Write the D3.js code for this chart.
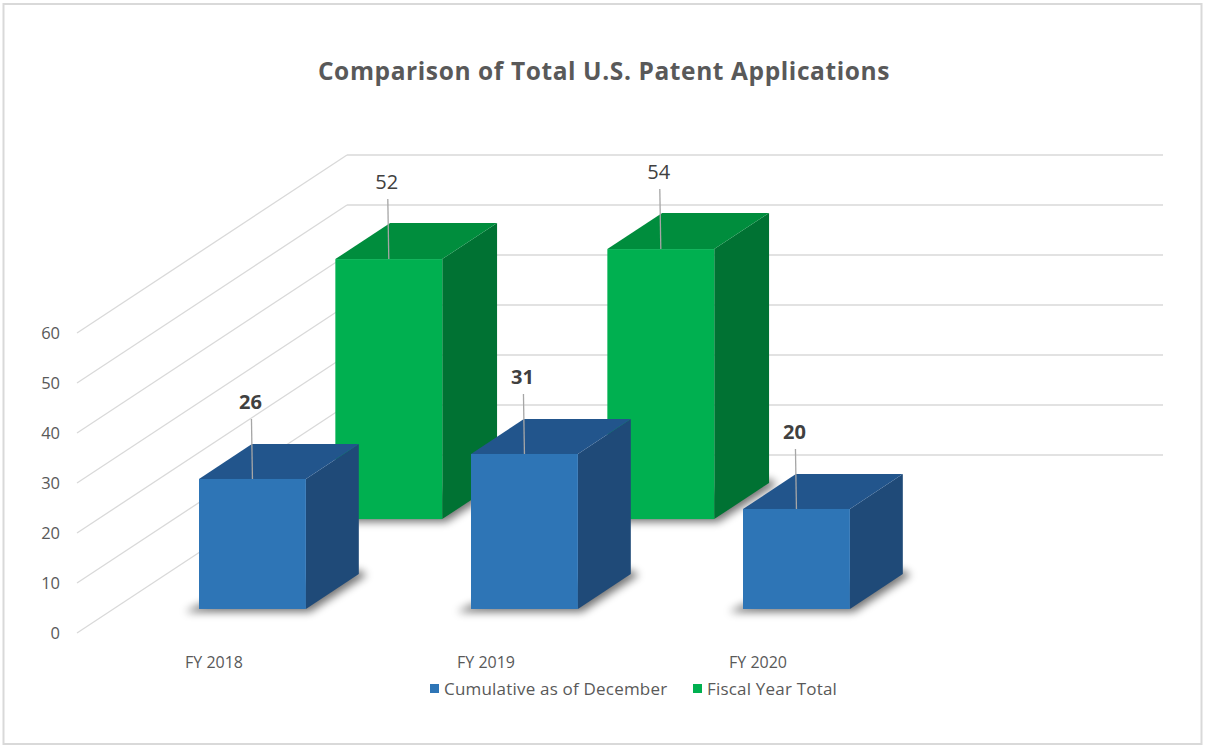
<!DOCTYPE html>
<html>
<head>
<meta charset="utf-8">
<script src="https://cdn.jsdelivr.net/npm/d3@7"></script>
<style>
  html, body { margin: 0; padding: 0; background: #fff; }
  svg { display: block; }
  text { font-family: "Open Sans", "Noto Sans", sans-serif; }
</style>
</head>
<body>
<svg id="chart" width="1205" height="747"></svg>
<script>
// ---- data ----
const title = "Comparison of Total U.S. Patent Applications";
const categories = ["FY 2018", "FY 2019", "FY 2020"];
const seriesNames = ["Cumulative as of December", "Fiscal Year Total"];
const cumulative = [26, 31, 20];
const fiscalTotal = [52, 54, null];
const yTicks = [0, 10, 20, 30, 40, 50, 60];

// ---- layout ----
const svg = d3.select("#chart");
const floorY = 633;           // y of value 0 on the front plane
const wallLeft = 77, wallRight = 893;   // front-plane x extent
const depthDX = 270, depthDY = -178;    // full depth offset

const x = d3.scaleBand().domain(categories).range([80, 896]).paddingInner(0.607).paddingOuter(0.3035);
const y = d3.scaleLinear().domain([0, 60]).range([0, 300]);   // height in px
const depth = d3.scaleLinear().domain([0, 1]).range([0, 1]);
const P = (px, v, d) => [px + depth(d) * depthDX, floorY - y(v) + depth(d) * depthDY];

const series = [
  { name: seriesNames[1], values: fiscalTotal, d0: 0.64, d1: 0.843,
    front: "#00b050", top: "#008d3d", side: "#007233", labelWeight: "normal" },
  { name: seriesNames[0], values: cumulative, d0: 0.135, d1: 0.331,
    front: "#2e75b6", top: "#22558c", side: "#1f4a78", labelWeight: "bold" }
];

// border
svg.append("rect").attr("x", 3.5).attr("y", 4).attr("width", 1198).attr("height", 740)
  .attr("fill", "#fff").attr("stroke", "#d9d9d9").attr("stroke-width", 2);

// title
svg.append("text").attr("x", 604).attr("y", 80).attr("text-anchor", "middle")
  .attr("font-size", 24.5).attr("font-weight", "bold").attr("letter-spacing", 0.6)
  .attr("fill", "#595959").text(title);

// defs: shadow blur
const defs = svg.append("defs");
defs.append("filter").attr("id", "blur").attr("x", "-20%").attr("y", "-50%").attr("width", "140%").attr("height", "200%")
  .append("feGaussianBlur").attr("stdDeviation", 4);

const line = d3.line();

// back wall and side wall gridlines
const grid = svg.append("g").attr("stroke", "#d9d9d9").attr("stroke-width", 1.3).attr("fill", "none");
yTicks.forEach(v => {
  grid.append("path").attr("d", line([P(wallLeft, v, 1), P(wallRight, v, 1)]));
  grid.append("path").attr("d", line([P(wallLeft, v, 0), P(wallLeft, v, 1)]));
});

// y tick labels
svg.append("g").selectAll("text").data(yTicks).join("text")
  .attr("x", 60).attr("y", v => floorY - y(v) + 6)
  .attr("text-anchor", "end").attr("font-size", 16.5).attr("fill", "#595959")
  .text(v => v);

// bars
const bars = svg.append("g");
series.forEach(s => {
  categories.forEach((c, i) => {
    const v = s.values[i];
    if (v == null) return;
    const x0 = x(c), x1 = x(c) + x.bandwidth();
    const g = bars.append("g");
    // shadow of footprint
    g.append("path").attr("filter", "url(#blur)").attr("fill", "#000").attr("opacity", 0.55)
      .attr("d", line([
        [P(x0, 0, s.d0)[0] - 14, P(x0, 0, s.d0)[1] + 3],
        [P(x1, 0, s.d0)[0] + 4, P(x1, 0, s.d0)[1] + 3],
        [P(x1, 0, s.d1)[0] + 8, P(x1, 0, s.d1)[1] + 1],
        [P(x1, 0, s.d1)[0], P(x1, 0, s.d1)[1] - 4],
        [P(x0, 0, s.d0)[0], P(x0, 0, s.d0)[1] - 4]
      ]) + "Z");
    // side face
    g.append("path").attr("fill", s.side).attr("d", line([
      P(x1, 0, s.d0), P(x1, v, s.d0), P(x1, v, s.d1), P(x1, 0, s.d1)]) + "Z");
    // top face
    g.append("path").attr("fill", s.top).attr("d", line([
      P(x0, v, s.d0), P(x1, v, s.d0), P(x1, v, s.d1), P(x0, v, s.d1)]) + "Z");
    // front face
    const [fx, fy] = P(x0, v, s.d0);
    const [, by] = P(x0, 0, s.d0);
    g.append("rect").attr("x", fx).attr("y", fy).attr("width", x.bandwidth()).attr("height", by - fy)
      .attr("fill", s.front);
  });
});

// data labels with leader lines
const labels = svg.append("g");
series.forEach(s => {
  categories.forEach((c, i) => {
    const v = s.values[i];
    if (v == null) return;
    const [cx, cy] = P(x(c) + x.bandwidth() / 2, v, s.d0);
    labels.append("line").attr("x1", cx - 1).attr("y1", cy - 60).attr("x2", cx).attr("y2", cy)
      .attr("stroke", "#a6a6a6").attr("stroke-width", 1.3);
    labels.append("text").attr("x", cx - 2).attr("y", cy - 70).attr("text-anchor", "middle")
      .attr("font-size", 20).attr("font-weight", s.labelWeight).attr("fill", "#404040").text(v);
  });
});

// category labels
svg.append("g").selectAll("text").data(categories).join("text")
  .attr("x", c => x(c) + x.bandwidth() / 2 - 2).attr("y", 668)
  .attr("text-anchor", "middle").attr("font-size", 16).attr("fill", "#595959").text(c => c);

// legend
const legendItems = [
  { name: seriesNames[0], color: "#2e75b6", x: 430 },
  { name: seriesNames[1], color: "#00b050", x: 693 }
];
const lg = svg.append("g");
legendItems.forEach(it => {
  lg.append("rect").attr("x", it.x).attr("y", 684).attr("width", 9).attr("height", 9).attr("fill", it.color);
  lg.append("text").attr("x", it.x + 14).attr("y", 694.5).attr("font-size", 17).attr("letter-spacing", 0.2)
    .attr("fill", "#595959").text(it.name);
});
</script>
</body>
</html>
